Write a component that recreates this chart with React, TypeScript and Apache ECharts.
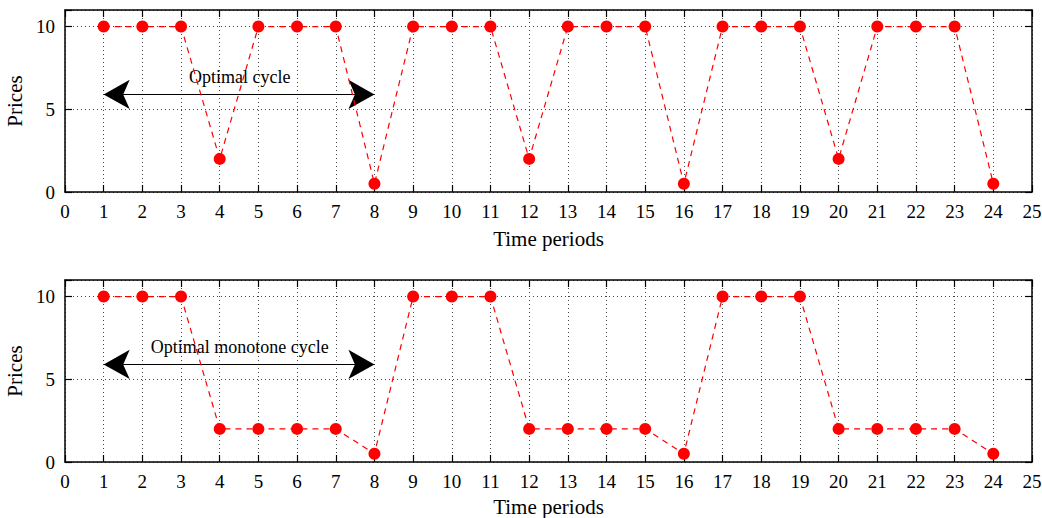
import React, { useEffect, useRef } from "react";
import * as echarts from "echarts";

const periods = Array.from({ length: 24 }, (_, i) => i + 1);
const cyclePrices = [10, 10, 10, 2, 10, 10, 10, 0.5, 10, 10, 10, 2, 10, 10, 10, 0.5, 10, 10, 10, 2, 10, 10, 10, 0.5];
const monotonePrices = [10, 10, 10, 2, 2, 2, 2, 0.5, 10, 10, 10, 2, 2, 2, 2, 0.5, 10, 10, 10, 2, 2, 2, 2, 0.5];
const annotations = ["Optimal cycle", "Optimal monotone cycle"];
const arrowFrom = 1;
const arrowTo = 8;
const arrowY = 5.9;
const labelX = 4.52;
const labelY = 6.97;
const xAxisName = "Time periods";
const yAxisName = "Prices";

const FONT = "Liberation Serif";

export default function App() {
  const ref = useRef<HTMLDivElement>(null);
  useEffect(() => {
    if (!ref.current) return;
    const chart = echarts.init(ref.current, null, { renderer: "svg" });
    const grids = [
      { left: 65, right: 10, top: 10, height: 182, containLabel: false, outerBoundsMode: "none" },
      { left: 65, right: 10, top: 280, height: 182, containLabel: false, outerBoundsMode: "none" },
    ];
    const xNameGaps = [36, 34];
    const xAxes: any[] = [];
    const yAxes: any[] = [];
    const series: any[] = [];
    const datasets = [cyclePrices, monotonePrices];
    grids.forEach((_, g) => {
      const common = {
        gridIndex: g,
        type: "value",
        axisLine: { show: true, onZero: false, lineStyle: { color: "#000", width: 1.5 } },
        axisTick: { show: true, inside: true, length: 7, lineStyle: { color: "#000", width: 1.2 } },
      };
      xAxes.push({
        ...common,
        position: "bottom",
        min: 0,
        max: 25,
        interval: 1,
        name: xAxisName,
        nameLocation: "middle",
        nameGap: xNameGaps[g],
        nameTextStyle: { fontFamily: FONT, fontSize: 21, color: "#000" },
        axisLabel: { fontFamily: FONT, fontSize: 19, color: "#000", margin: 10 },
        splitLine: { show: true, lineStyle: { color: "#444", type: [1, 3], width: 1 } },
      });
      xAxes.push({
        ...common,
        position: "top",
        min: 0,
        max: 25,
        interval: 1,
        axisLabel: { show: false },
        splitLine: { show: false },
      });
      yAxes.push({
        ...common,
        position: "left",
        min: 0,
        max: 11,
        interval: 5,
        name: yAxisName,
        nameLocation: "middle",
        nameGap: 36,
        nameRotate: 90,
        nameTextStyle: { fontFamily: FONT, fontSize: 21, color: "#000" },
        axisLabel: {
          fontFamily: FONT,
          fontSize: 19,
          color: "#000",
          margin: 10,
          formatter: (v: number) => (v % 5 === 0 ? String(v) : ""),
        },
        splitLine: { show: true, lineStyle: { color: "#444", type: [1, 3], width: 1 } },
      });
      yAxes.push({
        ...common,
        position: "right",
        min: 0,
        max: 11,
        interval: 5,
        axisLabel: { show: false },
        splitLine: { show: false },
      });
      series.push({
        type: "line",
        xAxisIndex: g * 2,
        yAxisIndex: g * 2,
        data: periods.map((p, i) => [p, datasets[g][i]]),
        symbol: "circle",
        symbolSize: 12,
        itemStyle: { color: "#ff0000" },
        lineStyle: { color: "#ff0000", width: 1.2, type: [6, 5] },
        z: 5,
        markLine: {
          silent: true,
          symbol: ["arrow", "arrow"],
          symbolSize: [22, 26],
          lineStyle: { color: "#000", width: 1.2, type: "solid" },
          itemStyle: { color: "#000" },
          label: { show: false },
          data: [[{ coord: [arrowFrom, arrowY] }, { coord: [arrowTo, arrowY] }]],
        },
        markPoint: {
          silent: true,
          symbol: "circle",
          symbolSize: 0,
          label: {
            show: true,
            position: "inside",
            formatter: annotations[g],
            fontFamily: FONT,
            fontSize: 18,
            color: "#000",
          },
          data: [{ coord: [labelX, labelY] }],
        },
      });
    });
    chart.setOption({
      animation: false,
      backgroundColor: "#fff",
      grid: grids,
      xAxis: xAxes,
      yAxis: yAxes,
      series,
    });
    return () => chart.dispose();
  }, []);
  return (
    <div
      ref={ref}
      style={{ position: "fixed", left: 0, top: 0, width: 1042, height: 518 }}
    />
  );
}
